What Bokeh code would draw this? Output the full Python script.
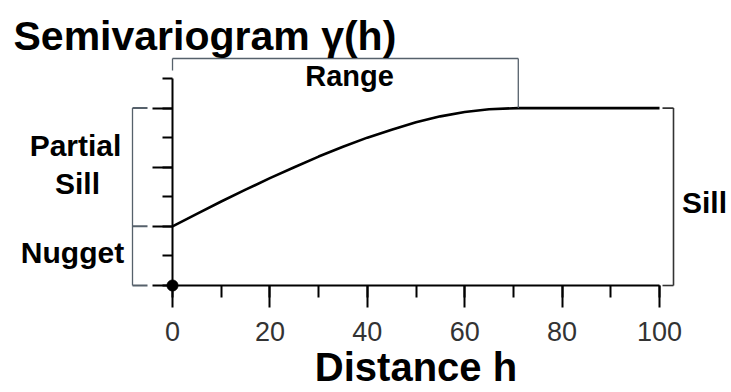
from bokeh.plotting import figure
from bokeh.models import (Range1d, SingleIntervalTicker, Label, LinearAxis,
                          CustomJSTickFormatter)
from bokeh.embed import file_html
from bokeh.resources import INLINE

# ---- data ----
distance = [0, 5, 10, 15, 20, 25, 30, 35, 40, 45, 50, 55, 60, 65, 71, 100]
gamma = [2.0, 2.42, 2.84, 3.24, 3.63, 4.0, 4.36, 4.69, 5.0, 5.27, 5.52, 5.72,
         5.87, 5.96, 6.0, 6.0]
x_tick_step = 20
y_tick_step = 2
NUGGET = 2.0
SILL = 6.0
RANGE = 71.0
X_MAX = 100
Y_MAX = 7

title_text = "Semivariogram \u03b3(h)"
xlabel_text = "Distance h"
range_text = "Range"
nugget_text = "Nugget"
sill_text = "Sill"

# ---- layout ----
W, H = 731, 392
X0, X1 = -35.32, 114.78
Y0, Y1 = -3.618, 9.638
LIFT = 10  # label baseline correction in px


def dx(px):  # page pixel -> data x
    return X0 + px * (X1 - X0) / W


def dy(py):  # page pixel -> data y
    return Y1 - py * (Y1 - Y0) / H


FONT = "Liberation Sans"
GRAY = "#56616b"

p = figure(width=W, height=H, x_range=Range1d(X0, X1), y_range=Range1d(Y0, Y1),
           output_backend="svg", toolbar_location=None,
           x_axis_location=None, y_axis_location=None, min_border=0)
p.outline_line_color = None
p.background_fill_color = "white"
p.border_fill_color = "white"
p.grid.visible = False

xaxis = LinearAxis(fixed_location=0, bounds=(0, X_MAX),
                   ticker=SingleIntervalTicker(interval=x_tick_step, num_minor_ticks=2))
xaxis.axis_line_width = 2
xaxis.axis_line_color = "black"
xaxis.major_tick_line_width = 2
xaxis.major_tick_line_color = "black"
xaxis.minor_tick_line_width = 2
xaxis.minor_tick_line_color = "black"
xaxis.major_tick_in = 0
xaxis.major_tick_out = 22
xaxis.minor_tick_in = 0
xaxis.minor_tick_out = 12
xaxis.major_label_text_font = FONT
xaxis.major_label_text_font_size = "27px"
xaxis.major_label_text_color = "#333333"
xaxis.major_label_standoff = 14
xaxis.axis_label = xlabel_text
xaxis.axis_label_text_font = FONT
xaxis.axis_label_text_font_size = "40px"
xaxis.axis_label_text_font_style = "bold"
xaxis.axis_label_text_color = "black"
xaxis.axis_label_standoff = 1
p.add_layout(xaxis, "below")

yaxis = LinearAxis(fixed_location=0, bounds=(0, Y_MAX),
                   ticker=SingleIntervalTicker(interval=y_tick_step, num_minor_ticks=2),
                   formatter=CustomJSTickFormatter(code="return ''"))
yaxis.axis_line_width = 2
yaxis.axis_line_color = "black"
yaxis.major_tick_line_width = 2
yaxis.major_tick_line_color = "black"
yaxis.minor_tick_line_width = 2
yaxis.minor_tick_line_color = "black"
yaxis.major_tick_in = 0
yaxis.major_tick_out = 20
yaxis.minor_tick_in = 0
yaxis.minor_tick_out = 10
yaxis.major_label_text_font_size = "0px"
p.add_layout(yaxis, "left")

# semivariogram curve
p.line(distance, gamma, line_color="black", line_width=2.6)
dot = p.scatter([distance[0]], [0], size=11, color="black")
dot.level = "overlay"

# Range bracket
ry = dy(58)
p.segment([0, 0, RANGE], [ry, ry, ry], [RANGE, 0, RANGE], [ry, dy(70), SILL],
          line_color=GRAY, line_width=1.3)
# left bracket (partial sill / nugget)
lx, lx2 = dx(132), dx(147)
p.segment([lx], [0], [lx], [SILL], line_color=GRAY, line_width=1.3)
p.segment([lx] * 3, [0, NUGGET, SILL], [lx2] * 3, [0, NUGGET, SILL],
          line_color=GRAY, line_width=2)
# right bracket (sill)
rx, rx2 = dx(673), dx(662)
p.segment([rx], [0], [rx], [SILL], line_color="#333333", line_width=1.6)
p.segment([rx2] * 2, [0, SILL], [rx] * 2, [0, SILL], line_color="#333333", line_width=1.6)


# texts
def label(px, py, text, size, align="center", style="bold"):
    p.add_layout(Label(x=dx(px), y=dy(py - LIFT), text=text, text_font=FONT,
                       text_font_size=size, text_font_style=style, text_align=align,
                       text_baseline="alphabetic", text_color="black"))


label(13, 45, title_text, "41px", align="left")
label(349, 85, range_text, "29px")
label(75, 155, "Partial", "30px")
label(77, 193, "Sill", "30px")
label(72, 262, nugget_text, "30px")
label(704, 212, sill_text, "30px")

open("out.html", "w").write(file_html(p, INLINE))
